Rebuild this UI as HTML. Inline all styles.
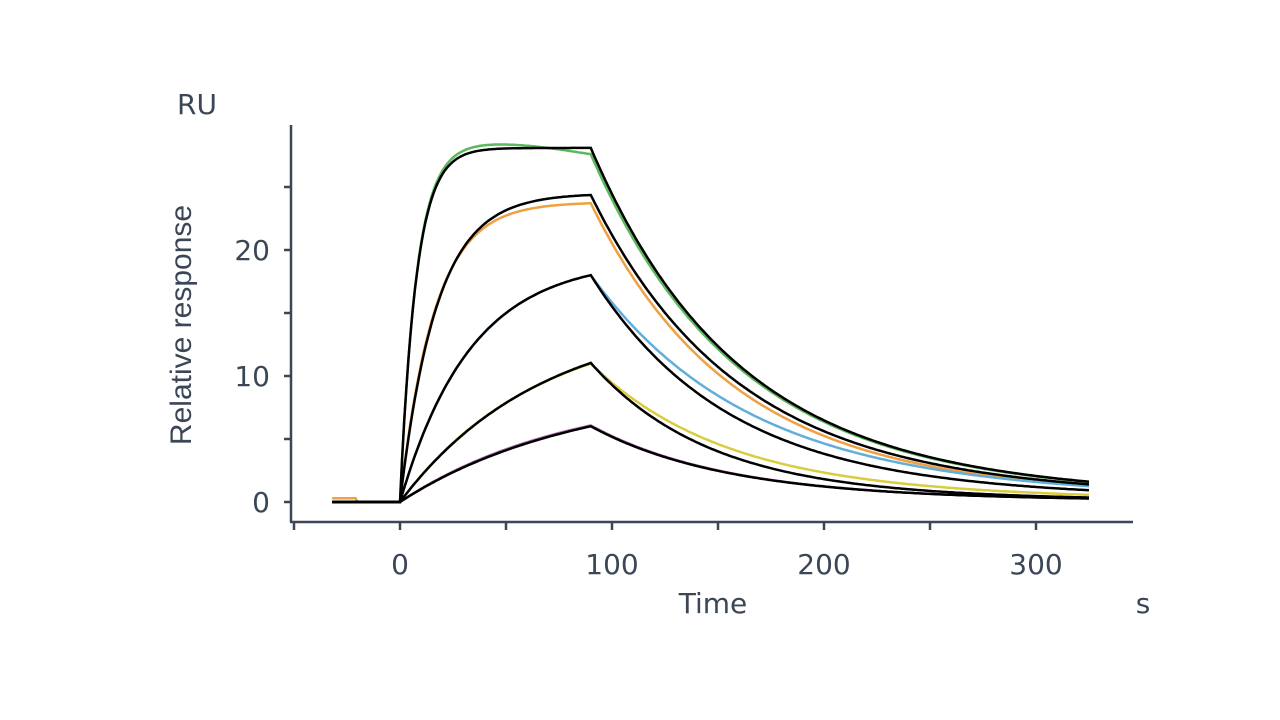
<!DOCTYPE html>
<html><head><meta charset="utf-8"><style>
body{margin:0;background:#fff;}
svg{display:block;font-family:"DejaVu Sans","Liberation Sans",sans-serif;}
</style></head><body>
<svg id="s" width="1280" height="720" viewBox="0 0 1280 720">
<g stroke="#3b4756" stroke-width="2.5" fill="none">
<line x1="291" y1="125" x2="291" y2="522"/>
<line x1="290" y1="522" x2="1133" y2="522"/>
<line x1="284" y1="502" x2="291" y2="502"/>
<line x1="284" y1="439" x2="291" y2="439"/>
<line x1="284" y1="376" x2="291" y2="376"/>
<line x1="284" y1="313" x2="291" y2="313"/>
<line x1="284" y1="250" x2="291" y2="250"/>
<line x1="284" y1="187" x2="291" y2="187"/>
<line x1="294" y1="522" x2="294" y2="530"/>
<line x1="400" y1="522" x2="400" y2="530"/>
<line x1="506" y1="522" x2="506" y2="530"/>
<line x1="612" y1="522" x2="612" y2="530"/>
<line x1="718" y1="522" x2="718" y2="530"/>
<line x1="824" y1="522" x2="824" y2="530"/>
<line x1="930" y1="522" x2="930" y2="530"/>
<line x1="1036" y1="522" x2="1036" y2="530"/>
</g>
<g fill="#3b4756" font-size="28">
<text x="270" y="512" text-anchor="end">0</text>
<text x="270" y="386" text-anchor="end">10</text>
<text x="270" y="260" text-anchor="end">20</text>
<text x="400" y="574" text-anchor="middle">0</text>
<text x="612" y="574" text-anchor="middle">100</text>
<text x="824" y="574" text-anchor="middle">200</text>
<text x="1036" y="574" text-anchor="middle">300</text>
<text x="713" y="613" text-anchor="middle">Time</text>
<text x="1143" y="613" text-anchor="middle">s</text>
<text x="197" y="114" text-anchor="middle">RU</text>
<text transform="translate(191,325) rotate(-90)" text-anchor="middle" font-family="Liberation Sans Narrow,Liberation Sans,sans-serif" font-size="30">Relative response</text>
</g>
<g id="c" fill="none" stroke-width="2.5"></g>
</svg>
<script>
var g=document.getElementById('c');
function X(t){return 400+t*2.12}function Y(v){return 502-v*12.6}
function path(f,col,w,t0){var d='';for(var t=t0;t<=325;t+=1){d+=(d?'L':'M')+X(t).toFixed(1)+' '+Y(f(t)).toFixed(1);}
var p=document.createElementNS('http://www.w3.org/2000/svg','path');p.setAttribute('d',d);p.setAttribute('stroke',col);p.setAttribute('stroke-width',w);g.appendChild(p);}
function mk(R,k,kd,s,dev){return function(t){if(t<0)return dev&&dev.pre?dev.pre(t):0;var a=function(tt){return R*(1-Math.exp(-k*tt))+(dev&&dev.a?dev.a(tt):0)};if(t<=90)return a(t);var u=t-90;return a(90)*((1-s)*Math.exp(-kd*u)+s*Math.exp(-0.005*u));};}
var data=[
[mk(28.1,0.13,0.015,0.1,{a:function(t){return 0.6*Math.sin(Math.PI*t/90)-0.5*t/90}}),'#5cb85c',mk(28.1,0.13,0.015,0.1)],
[mk(23.8,0.062,0.0155,0.1,{pre:function(t){return t<-20?0.3:0}}),'#f0a040',mk(24.5,0.058,0.015,0.1)],
[mk(19.3,0.03,0.014,0.12),'#62aedb',mk(19.3,0.03,0.016,0.1)],
[mk(14.6,0.0155,0.016,0.1),'#d9cc40',mk(14.9,0.015,0.018,0.06)],
[mk(9.0,0.0125,0.016,0.08),'#b06ab0',mk(9.1,0.012,0.016,0.08)]
];
data.forEach(function(d){path(d[0],d[1],2.5,-32);});
data.forEach(function(d){path(d[2],'#000',2.5,-32);});
</script>
</body></html>
